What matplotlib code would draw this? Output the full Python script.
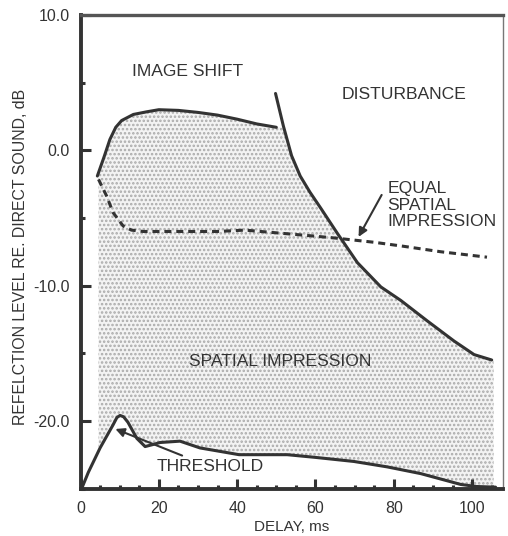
import numpy as np
import matplotlib
matplotlib.use("Agg")
import matplotlib.pyplot as plt
from matplotlib.ticker import MultipleLocator, FormatStrFormatter

plt.rcParams['font.family'] = ['Liberation Sans', 'DejaVu Sans']
plt.rcParams['hatch.linewidth'] = 1.2

# upper limit of spatial impression (image shift)
shift_x = [4.3, 6, 7.5, 9, 10.5, 13.5, 17, 20, 25, 30, 35, 40, 45, 50]
shift_y = [-1.9, -0.5, 0.8, 1.7, 2.2, 2.65, 2.85, 3.0, 2.95, 2.8, 2.6, 2.3, 1.95, 1.7]

# disturbance curve
dist_x = [49.8, 51.8, 53.9, 56.1, 58.6, 61.4, 65.5, 70.7, 76.7, 81.8, 88.5, 95.4, 100.5, 105]
dist_y = [4.2, 1.8, -0.4, -1.9, -3.1, -4.3, -6.1, -8.3, -10.1, -11.1, -12.6, -14.1, -15.1, -15.5]

# equal spatial impression (dashed)
equal_x = [4.6, 6.7, 8.3, 10.9, 13, 16, 25, 35, 42, 50, 60, 65.5, 75, 82.6, 92, 103.8]
equal_y = [-2.15, -3.4, -4.6, -5.6, -5.9, -6.0, -6.0, -6.0, -5.9, -6.1, -6.35, -6.5, -6.8, -7.1, -7.5, -7.9]

# threshold
thr_x = [0.3, 2, 5, 8.3, 9.3, 10.1, 11, 12.1, 14.4, 16.5, 18.5, 20.3, 25.4, 30.5, 40.5,
         52.8, 60, 69.8, 78.3, 86.9, 92, 97.1, 101, 106]
thr_y = [-25, -23.8, -22, -20.3, -19.75, -19.6, -19.7, -20.1, -21.3, -21.9, -21.75, -21.6,
         -21.5, -22, -22.5, -22.5, -22.7, -23, -23.4, -23.9, -24.3, -24.7, -24.85, -24.9]

ink = '#333333'

fig = plt.figure(figsize=(5.08, 5.36), dpi=100)
ax = fig.add_axes([0.1585, 0.0886, 0.8325, 0.8834])

# shaded region = spatial impression
xs = np.linspace(4.6, 105.5, 400)
low = np.interp(xs, thr_x, thr_y)
up = np.minimum(np.interp(xs, shift_x, shift_y),
                np.interp(xs, dist_x, dist_y, left=99))
ax.fill_between(xs, low, up, facecolor='#f3f3f3', edgecolor='#aaaaaa',
                hatch='....', linewidth=0, zorder=1)

ax.plot(shift_x, shift_y, color=ink, lw=2.2, solid_capstyle='round', zorder=3)
ax.plot(dist_x, dist_y, color=ink, lw=2.2, solid_capstyle='round', zorder=3)
ax.plot(thr_x, thr_y, color=ink, lw=2.2, solid_capstyle='round', zorder=3)
ax.plot(equal_x, equal_y, color=ink, lw=2.2, ls=(0, (2.3, 1.6)), zorder=3)

fs = 12.6
ax.text(13.2, 5.85, 'IMAGE SHIFT', fontsize=fs, color=ink, va='center')
ax.text(66.7, 4.15, 'DISTURBANCE', fontsize=fs, color=ink, va='center')
ax.text(78.4, -4.05, 'EQUAL\nSPATIAL\nIMPRESSION', fontsize=fs, color=ink,
        va='center', linespacing=1.12)
ax.text(27.6, -15.6, 'SPATIAL IMPRESSION', fontsize=fs, color=ink, va='center')
ax.annotate('', xy=(71.0, -6.4), xytext=(76.9, -3.3),
            arrowprops=dict(arrowstyle='-|>', color=ink, lw=1.5,
                            mutation_scale=13, shrinkA=0, shrinkB=0))
ax.annotate('THRESHOLD', xy=(8.9, -20.6), xytext=(19.5, -23.4), fontsize=fs,
            color=ink, va='center',
            arrowprops=dict(arrowstyle='-|>', color=ink, lw=1.5,
                            mutation_scale=13, shrinkA=2, shrinkB=0))

ax.set_xlim(0, 108)
ax.set_ylim(-25, 10)
ax.xaxis.set_major_locator(MultipleLocator(20))
ax.xaxis.set_minor_locator(MultipleLocator(5))
ax.yaxis.set_major_locator(MultipleLocator(10))
ax.yaxis.set_minor_locator(MultipleLocator(5))
ax.yaxis.set_major_formatter(FormatStrFormatter('%.1f'))
ax.tick_params(which='major', direction='in', length=7, width=2.2,
               color=ink, labelcolor=ink, labelsize=11.5)
ax.tick_params(which='minor', direction='in', length=3, width=2.2, color=ink)
ax.tick_params(axis='x', which='major', pad=9)
ax.tick_params(axis='y', which='major', pad=7.5)

for side in ['left', 'bottom']:
    ax.spines[side].set_linewidth(2.8)
    ax.spines[side].set_color(ink)
ax.spines['top'].set_linewidth(2.4)
ax.spines['top'].set_color('#555555')
ax.spines['right'].set_linewidth(1.0)
ax.spines['right'].set_color('#777777')

ax.set_xlabel('DELAY, ms', fontsize=11, color=ink, labelpad=3)
ax.set_ylabel('REFELCTION LEVEL RE. DIRECT SOUND, dB', fontsize=11.4, color=ink)
ax.yaxis.set_label_coords(-0.124, 0.49)

fig.savefig('out.png', dpi=100)
